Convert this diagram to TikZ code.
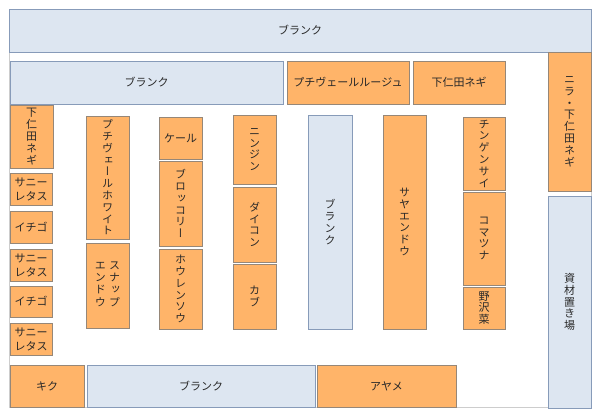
\documentclass[tikz,border=0pt]{standalone}
\usepackage{fontspec}
\setmainfont{Noto Sans CJK JP}
\newfontfamily\vfont[RawFeature=+vert]{Noto Sans CJK JP}
\definecolor{vegfill}{RGB}{255,180,105}
\definecolor{vegline}{RGB}{150,135,120}
\definecolor{blkfill}{RGB}{221,230,241}
\definecolor{blkline}{RGB}{135,155,185}
\definecolor{txt}{RGB}{40,40,40}
\definecolor{fieldline}{RGB}{205,205,205}
\tikzset{
  cellbase/.style={rectangle, inner sep=0pt, line width=0.8pt, text=txt, align=center,
    font=\fontsize{11}{13}\selectfont},
  veg/.style={cellbase, fill=vegfill, draw=vegline},
  blk/.style={cellbase, fill=blkfill, draw=blkline},
  vtext/.style={font=\vfont\fontsize{11}{11.8}\selectfont}
}
\newcommand\plotcell[7]{%
  \node[#2, minimum width={(#5-#3)*1pt}, minimum height={(#6-#4)*1pt}]
    (#1) at ({(#3+#5)/2},{(#4+#6)/2}) {#7};}
\begin{document}
\begin{tikzpicture}[x=1pt,y=-1pt]
\useasboundingbox[fill=white] (0,0) rectangle (600,416);
\draw[fieldline, line width=0.6pt] (9.5,9) rectangle (591,407.5);
% top rows
\plotcell{b1}{blk}{9}{9}{591}{52}{ブランク}
\plotcell{b2}{blk}{10}{61}{283}{104}{ブランク}
\plotcell{pr}{veg}{287}{61}{409}{104}{プチヴェールルージュ}
\plotcell{sn1}{veg}{413}{61}{505}{104}{下仁田ネギ}
\plotcell{nira}{veg,vtext}{548}{52}{591}{191}{ニ\\ラ\\・\\下\\仁\\田\\ネ\\ギ}
\plotcell{shizai}{blk,vtext}{548}{196}{591}{408}{資\\材\\置\\き\\場}
% left column
\plotcell{sn2}{veg,vtext}{10}{105}{53}{168}{下\\仁\\田\\ネ\\ギ}
\plotcell{sl1}{veg,font=\fontsize{11}{14}\selectfont}{10}{173}{52}{205}{サニー\\レタス}
\plotcell{ic1}{veg}{10}{211}{52}{243}{イチゴ}
\plotcell{sl2}{veg,font=\fontsize{11}{14}\selectfont}{10}{249}{52}{281}{サニー\\レタス}
\plotcell{ic2}{veg}{10}{286}{52}{317}{イチゴ}
\plotcell{sl3}{veg,font=\fontsize{11}{14}\selectfont}{10}{323}{52}{355}{サニー\\レタス}
% bottom row
\plotcell{kiku}{veg}{10}{365}{84}{407}{キク}
\plotcell{b3}{blk}{87}{365}{315}{407}{ブランク}
\plotcell{ayame}{veg}{317}{365}{456}{407}{アヤメ}
% column 2
\plotcell{pw}{veg,vtext}{86}{116}{129}{239}{プ\\チ\\ヴ\\ェ\\ー\\ル\\ホ\\ワ\\イ\\ト}
\plotcell{snap}{veg,vtext}{86}{243}{129}{328}{\begin{tabular}{@{}c@{\hspace{3.5pt}}c@{}}エ&ス\\ン&ナ\\ド&ッ\\ウ&プ\end{tabular}}
% column 3
\plotcell{kale}{veg}{159}{117}{202}{159}{ケール}
\plotcell{broc}{veg,vtext}{159}{161}{202}{246}{ブ\\ロ\\ッ\\コ\\リ\\ー}
\plotcell{hou}{veg,vtext}{159}{249}{202}{329}{ホ\\ウ\\レ\\ン\\ソ\\ウ}
% column 4
\plotcell{nin}{veg,vtext}{233}{115}{276}{184}{ニ\\ン\\ジ\\ン}
\plotcell{dai}{veg,vtext}{233}{187}{276}{262}{ダ\\イ\\コ\\ン}
\plotcell{kabu}{veg,vtext}{233}{264}{276}{329}{カ\\ブ}
% column 5
\plotcell{b4}{blk,vtext}{308}{115}{352}{329}{ブ\\ラ\\ン\\ク}
% column 6
\plotcell{saya}{veg,vtext}{383}{115}{426}{329}{サ\\ヤ\\エ\\ン\\ド\\ウ}
% column 7
\plotcell{chin}{veg,vtext}{463}{117}{505}{190}{チ\\ン\\ゲ\\ン\\サ\\イ}
\plotcell{koma}{veg,vtext}{463}{192}{505}{285}{コ\\マ\\ツ\\ナ}
\plotcell{noza}{veg,vtext}{463}{287}{505}{329}{野\\沢\\菜}
\end{tikzpicture}
\end{document}
